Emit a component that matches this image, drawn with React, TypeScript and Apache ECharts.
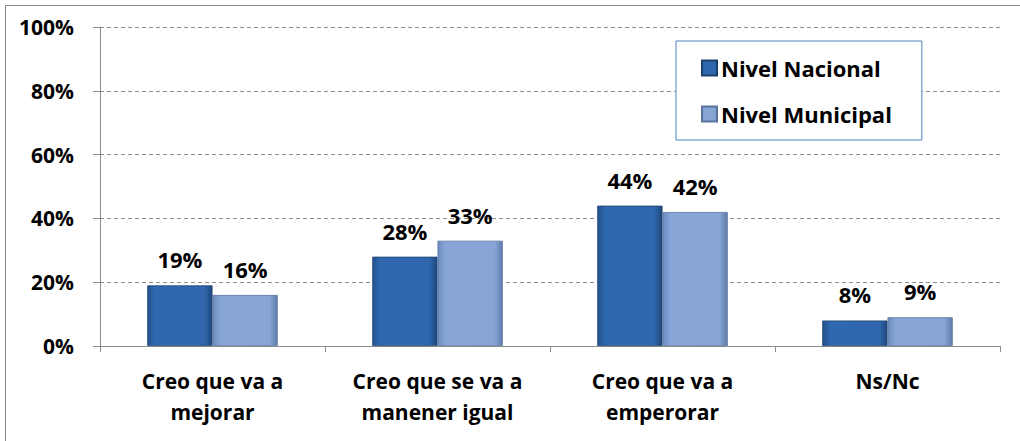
import React, { useEffect, useRef } from "react";
import * as echarts from "echarts";

const categories = ["Creo que va a\nmejorar", "Creo que se va a\nmanener igual", "Creo que va a\nemperorar", "Ns/Nc"];
const nacional = [19, 28, 44, 8];
const municipal = [16, 33, 42, 9];
const seriesNames = ["Nivel Nacional", "Nivel Municipal"];

const FONT = "'Open Sans', Lato, sans-serif";

export default function App() {
  const ref = useRef<HTMLDivElement>(null);
  useEffect(() => {
    document.body.style.margin = "0";
    const chart = echarts.init(ref.current!, null, { renderer: "svg" });
    const darkFill = new echarts.graphic.LinearGradient(0, 0, 1, 0, [
      { offset: 0, color: "#24528f" },
      { offset: 0.12, color: "#3068b0" },
      { offset: 0.88, color: "#2f66ad" },
      { offset: 1, color: "#1f477d" },
    ]);
    const lightFill = new echarts.graphic.LinearGradient(0, 0, 1, 0, [
      { offset: 0, color: "#6d8cbf" },
      { offset: 0.12, color: "#88a6d8" },
      { offset: 0.88, color: "#86a4d6" },
      { offset: 1, color: "#5f7cab" },
    ]);
    const label = {
      show: true,
      position: "top" as const,
      distance: 15,
      formatter: "{c}%",
      fontFamily: FONT,
      fontWeight: "bold" as const,
      fontSize: 22,
      color: "#000",
    };
    chart.setOption({
      animation: false,
      backgroundColor: "#fff",
      textStyle: { fontFamily: FONT },
      graphic: [
        {
          type: "rect",
          shape: { x: 5.5, y: 5.5, width: 1030, height: 450 },
          style: { fill: "none", stroke: "#888", lineWidth: 1 },
          silent: true,
          z: -10,
        },
      ],
      legend: {
        orient: "vertical",
        left: 676,
        top: 41,
        padding: [16, 30, 15, 25],
        itemGap: 24,
        itemWidth: 15,
        itemHeight: 15,
        borderColor: "#4f81bd",
        borderWidth: 1,
        backgroundColor: "#fff",
        icon: "rect",
        textStyle: { fontFamily: FONT, fontWeight: "bold", fontSize: 22, color: "#000", padding: [0, 0, 0, -1] },
        data: seriesNames,
      },
      grid: { left: 100, right: 20, top: 27, bottom: 95 },
      xAxis: {
        type: "category",
        data: categories,
        axisLine: { lineStyle: { color: "#8c8c8c" } },
        axisTick: { show: true, length: 6, lineStyle: { color: "#8c8c8c" } },
        axisLabel: {
          fontFamily: FONT,
          fontWeight: "bold",
          fontSize: 21,
          color: "#000",
          lineHeight: 31,
          margin: 19,
        },
      },
      yAxis: {
        type: "value",
        min: 0,
        max: 100,
        interval: 20,
        axisLine: { show: true, lineStyle: { color: "#8c8c8c" } },
        axisTick: { show: true, length: 7, lineStyle: { color: "#8c8c8c" } },
        splitLine: { lineStyle: { color: "#8c8c8c", type: [4, 3] } },
        axisLabel: {
          formatter: "{value}%",
          fontFamily: FONT,
          fontWeight: "bold",
          fontSize: 21,
          color: "#000",
          margin: 26,
        },
      },
      series: [
        {
          name: seriesNames[0],
          type: "bar",
          data: nacional,
          barGap: "0%",
          barCategoryGap: "42%",
          itemStyle: { color: darkFill, borderColor: "#1d426f", borderWidth: 0.8 },
          label,
        },
        {
          name: seriesNames[1],
          type: "bar",
          data: municipal,
          itemStyle: { color: lightFill, borderColor: "#5a739c", borderWidth: 0.8 },
          label,
        },
      ],
    });
    return () => chart.dispose();
  }, []);
  return <div ref={ref} style={{ width: 1020, height: 441 }} />;
}
